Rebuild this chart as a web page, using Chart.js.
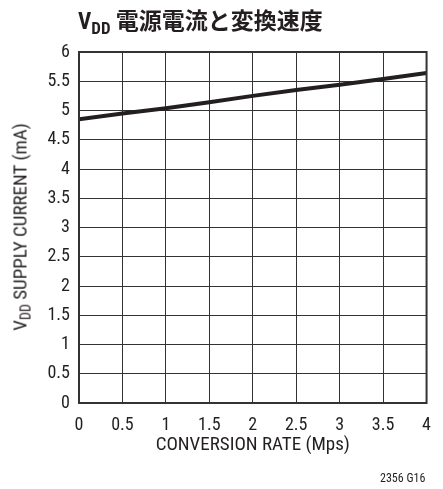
<!DOCTYPE html>
<html>
<head>
<meta charset="utf-8">
<script src="https://cdn.jsdelivr.net/npm/chart.js@4"></script>
<style>
  html, body { margin: 0; padding: 0; background: #fff; }
  #wrap { position: relative; width: 443px; height: 489px; }
  #title {
    position: absolute; left: 78px; top: 2px; white-space: nowrap;
    font-family: Roboto, sans-serif; font-stretch: condensed;
    font-weight: bold; font-size: 23px; color: #231f20;
  }
  #title .jp { font-family: 'Noto Sans CJK JP', sans-serif; font-stretch: normal; font-size: 23px; }
  #title sub { font-size: 17px; vertical-align: -5px; line-height: 0; }
  #ytitle {
    position: absolute; left: 20px; top: 227px; white-space: nowrap;
    transform: translate(-50%, -50%) rotate(-90deg);
    font-family: Roboto, sans-serif; font-stretch: condensed; font-size: 19px; color: #231f20;
  }
  #ytitle sub { font-size: 14px; vertical-align: -4px; line-height: 0; }
  #code {
    position: absolute; left: 380px; top: 471px;
    font-family: Roboto, sans-serif; font-stretch: condensed; font-size: 12px; color: #231f20;
  }
</style>
</head>
<body>
<div id="wrap">
  <canvas id="chart" width="443" height="489"></canvas>
  <div id="title">V<sub>DD</sub> <span class="jp">電源電流と変換速度</span></div>
  <div id="ytitle">V<sub>DD</sub> SUPPLY CURRENT (mA)</div>
  <div id="code">2356 G16</div>
</div>
<script>
const rates = [0, 0.5, 1, 1.5, 2, 2.5, 3, 3.5, 4];
const supplyCurrent = [4.85, 4.95, 5.04, 5.14, 5.25, 5.35, 5.44, 5.54, 5.64];
const xTicks = [0, 0.5, 1, 1.5, 2, 2.5, 3, 3.5, 4];
const yTicks = [0, 0.5, 1, 1.5, 2, 2.5, 3, 3.5, 4, 4.5, 5, 5.5, 6];

const ink = '#231f20';
// "normal condensed" ends up in the canvas font string -> Roboto Condensed
const tickFont = { family: 'Roboto, sans-serif', weight: 'normal condensed', size: 18 };

new Chart(document.getElementById('chart'), {
  type: 'line',
  data: {
    datasets: [{
      data: rates.map((r, i) => ({ x: r, y: supplyCurrent[i] })),
      borderColor: ink,
      borderWidth: 4,
      pointRadius: 0,
      tension: 0
    }]
  },
  options: {
    responsive: false,
    animation: false,
    layout: { padding: { left: 0, top: 52, right: 12, bottom: 0 } },
    plugins: { legend: { display: false }, tooltip: { enabled: false } },
    scales: {
      x: {
        type: 'linear', min: 0, max: 4,
        afterBuildTicks: s => { s.ticks = xTicks.map(v => ({ value: v })); },
        afterFit: s => { s.height = 86; },
        grid: { color: '#333', lineWidth: 1, drawTicks: false },
        border: { color: '#333', width: 2 },
        ticks: { color: ink, font: tickFont, padding: 12, maxRotation: 0, callback: v => v },
        title: {
          display: true, text: 'CONVERSION RATE (Mps)', color: ink,
          font: { family: 'Roboto, sans-serif', weight: 'normal condensed', size: 19 },
          padding: { top: 0, bottom: 32 }
        }
      },
      y: {
        min: 0, max: 6,
        afterBuildTicks: s => { s.ticks = yTicks.map(v => ({ value: v })); },
        afterFit: s => { s.width = 79; },
        grid: { color: '#333', lineWidth: 1, drawTicks: false },
        border: { color: '#333', width: 2 },
        ticks: { color: ink, font: tickFont, padding: 9, callback: v => v }
      }
    }
  },
  plugins: [{
    id: 'frame',
    afterDraw(chart) {
      const { ctx, chartArea: a } = chart;
      ctx.save();
      ctx.strokeStyle = '#333';
      ctx.lineWidth = 2;
      ctx.strokeRect(a.left, a.top, a.right - a.left, a.bottom - a.top);
      ctx.restore();
    }
  }]
});
</script>
</body>
</html>
